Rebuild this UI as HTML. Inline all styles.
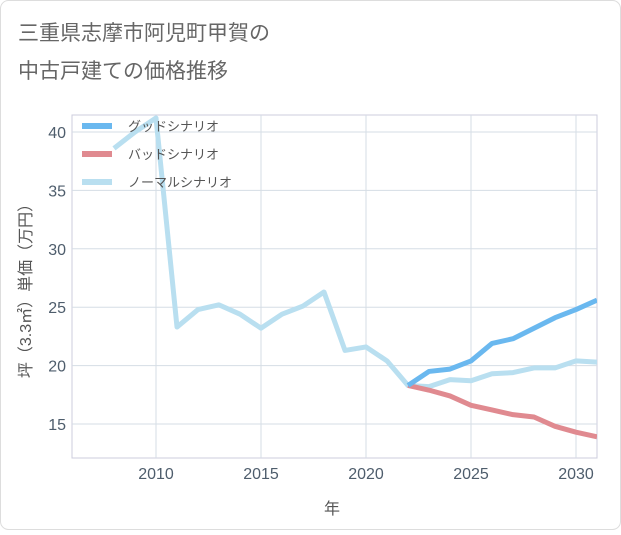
<!DOCTYPE html>
<html><head><meta charset="utf-8"><style>
body{margin:0;background:#fff;}
#wrap{position:relative;width:621px;height:530px;font-family:"Liberation Sans","Noto Sans CJK JP",sans-serif;}
</style></head><body>
<div id="wrap">
<svg id="chart" width="621" height="530" xmlns="http://www.w3.org/2000/svg">
<rect x="0.5" y="0.5" width="620" height="529" rx="8" fill="#fff" stroke="#ddd"/>
<text x="18" y="40" font-size="21" fill="#666" font-family="Liberation Sans, Noto Sans CJK JP, sans-serif">三重県志摩市阿児町甲賀の</text>
<text x="18" y="78" font-size="21" fill="#666" font-family="Liberation Sans, Noto Sans CJK JP, sans-serif">中古戸建ての価格推移</text>
<g id="grid"></g><g id="axes"></g><g id="series"></g><g id="legend"></g>
<text x="332" y="514" font-size="16" fill="#555" text-anchor="middle" font-family="Liberation Sans, Noto Sans CJK JP, sans-serif">年</text>
<text transform="translate(31,287) rotate(-90)" font-size="16" fill="#555" text-anchor="middle" font-family="Liberation Sans, Noto Sans CJK JP, sans-serif">坪（3.3㎡）単価（万円）</text>
</svg>
</div>
<script>
const years=[2008,2009,2010,2011,2012,2013,2014,2015,2016,2017,2018,2019,2020,2021,2022,2023,2024,2025,2026,2027,2028,2029,2030,2031];
const normalValues=[38.6,40.0,41.2,23.3,24.8,25.2,24.4,23.2,24.4,25.1,26.3,21.3,21.6,20.4,18.3,18.2,18.8,18.7,19.3,19.4,19.8,19.8,20.4,20.3];
const scenarioYears=[2022,2023,2024,2025,2026,2027,2028,2029,2030,2031];
const goodValues=[18.3,19.5,19.7,20.4,21.9,22.3,23.2,24.1,24.8,25.6];
const badValues=[18.3,17.9,17.4,16.6,16.2,15.8,15.6,14.8,14.3,13.9];
const xTicks=[2010,2015,2020,2025,2030];
const yTicks=[15,20,25,30,35,40];
const NS="http://www.w3.org/2000/svg";
const L=72,R=597,T=115,B=458;
const x=v=>156+(v-2010)*21;
const y=v=>132+(40-v)*11.68;
function mk(tag,attrs,parent){const e=document.createElementNS(NS,tag);for(const k in attrs)e.setAttribute(k,attrs[k]);parent.appendChild(e);return e;}
const grid=document.getElementById('grid'),axes=document.getElementById('axes'),series=document.getElementById('series'),legend=document.getElementById('legend');
mk('rect',{x:L,y:T,width:R-L,height:B-T,fill:'none',stroke:'#ccd',"stroke-width":1},grid);
xTicks.forEach(t=>{
 const l=mk('line',{x1:x(t),x2:x(t),y1:T,y2:B,stroke:'#d5dde5'},grid);
 
 
 const tx=mk('text',{x:x(t),y:479,"font-size":16,fill:'#4e5d6c',"text-anchor":'middle'},axes);
 tx.textContent=t;
 
 
});
yTicks.forEach(t=>{
 const l=mk('line',{x1:L,x2:R,y1:y(t),y2:y(t),stroke:'#d5dde5'},grid);
 
 
 const tx=mk('text',{x:66,y:y(t)+6,"font-size":16,fill:'#4e5d6c',"text-anchor":'end'},axes);
 tx.textContent=t;
 
 
});
function line(xs,vs,color,name){
 const d=xs.map((v,i)=>(i?'L':'M')+x(v)+' '+y(vs[i])).join(' ');
 const p=mk('path',{d:d,fill:'none',stroke:color,"stroke-width":5,"stroke-linejoin":'round'},series);
 
 
}
const clip=mk('clipPath',{id:'c'},series);mk('rect',{x:L,y:T,width:R-L,height:B-T},clip);
series.setAttribute('clip-path','url(#c)');
line(years,normalValues,'#b9dff0','normal-scenario-line');
line(scenarioYears,badValues,'#e08a90','bad-scenario-line');
line(scenarioYears,goodValues,'#6ab8ef','good-scenario-line');
const items=[['グッドシナリオ','#6ab8ef','legend-good'],['バッドシナリオ','#e08a90','legend-bad'],['ノーマルシナリオ','#b9dff0','legend-normal']];
items.forEach((it,i)=>{
 const cy=126+i*28;
 const s=mk('line',{x1:82,x2:112,y1:cy,y2:cy,stroke:it[1],"stroke-width":6},legend);
 
 
 const tx=mk('text',{x:128,y:cy+5,"font-size":13,fill:'#555'},legend);
 tx.textContent=it[0];
 
 
});
</script>
</body></html>
